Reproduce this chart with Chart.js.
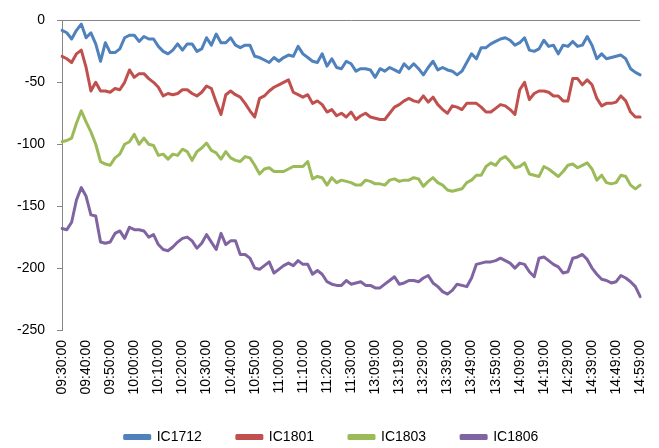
<!DOCTYPE html>
<html>
<head>
<meta charset="utf-8">
<script src="https://cdn.jsdelivr.net/npm/chart.js@4/dist/chart.umd.min.js"></script>
<style>
  html, body { margin: 0; padding: 0; background: #ffffff; }
  #c { display: block; }
</style>
</head>
<body>
<canvas id="c" width="659" height="448"></canvas>
<script>
// Spread between contract and index, sampled every two minutes of the trading day
const morningSession = ['09:30', '11:30'];
const afternoonSession = ['13:01', '14:59'];
const sampleStepMinutes = 2;

// Times shown on the horizontal axis
const tickLabels = [
  '09:30:00', '09:40:00', '09:50:00', '10:00:00', '10:10:00', '10:20:00',
  '10:30:00', '10:40:00', '10:50:00', '11:00:00', '11:10:00', '11:20:00',
  '11:30:00', '13:09:00', '13:19:00', '13:29:00', '13:39:00', '13:49:00',
  '13:59:00', '14:09:00', '14:19:00', '14:29:00', '14:39:00', '14:49:00',
  '14:59:00'
];

const seriesNames = ['IC1712', 'IC1801', 'IC1803', 'IC1806'];

const ic1712 = [
  -8, -10, -15, -8, -3, -14, -10, -19, -33, -18,
  -26, -26, -23, -14, -12, -12, -17, -13, -15, -15,
  -21, -25, -27, -24, -19, -24, -19, -19, -25, -23,
  -14, -20, -11, -18, -18, -14, -20, -22, -20, -20,
  -29, -30, -32, -34, -30, -33, -30, -28, -29, -21,
  -27, -30, -33, -34, -27, -37, -31, -38, -39, -33,
  -35, -41, -39, -39, -40, -46, -39, -41, -38, -40,
  -42, -35, -39, -35, -39, -44, -38, -33, -40, -38,
  -40, -41, -44, -41, -34, -27, -31, -22, -22, -19,
  -17, -15, -14, -16, -20, -18, -14, -24, -25, -23,
  -16, -21, -20, -27, -20, -21, -17, -21, -20, -13,
  -20, -31, -27, -31, -30, -29, -28, -31, -39, -42,
  -44
];

const ic1801 = [
  -29, -31, -34, -27, -24, -38, -57, -50, -57, -57,
  -58, -55, -56, -50, -40, -46, -43, -43, -47, -50,
  -54, -61, -59, -60, -59, -56, -56, -59, -61, -58,
  -53, -55, -66, -76, -60, -57, -60, -62, -67, -73,
  -78, -63, -61, -57, -54, -52, -50, -48, -58, -60,
  -62, -60, -67, -65, -68, -74, -72, -77, -75, -78,
  -74, -80, -77, -75, -78, -79, -80, -80, -75, -70,
  -68, -65, -63, -65, -66, -61, -66, -62, -68, -72,
  -75, -69, -70, -72, -67, -67, -67, -70, -74, -74,
  -71, -68, -69, -72, -76, -56, -50, -64, -59, -57,
  -57, -58, -61, -61, -65, -65, -47, -47, -52, -48,
  -52, -63, -69, -67, -67, -66, -61, -65, -74, -78,
  -78
];

const ic1803 = [
  -98, -97, -95, -83, -73, -82, -90, -100, -114, -116,
  -117, -111, -108, -100, -98, -92, -100, -95, -100, -101,
  -109, -108, -112, -108, -109, -104, -106, -113, -106, -103,
  -99, -105, -107, -112, -106, -111, -113, -114, -110, -111,
  -117, -124, -120, -119, -122, -122, -122, -120, -118, -118,
  -118, -114, -128, -126, -127, -133, -127, -131, -129, -130,
  -131, -133, -133, -129, -130, -132, -132, -133, -129, -128,
  -130, -129, -129, -127, -128, -134, -130, -127, -131, -133,
  -137, -138, -137, -136, -131, -129, -125, -125, -118, -115,
  -117, -112, -110, -114, -119, -118, -115, -124, -125, -126,
  -118, -120, -123, -126, -122, -117, -116, -119, -117, -115,
  -120, -129, -125, -131, -132, -131, -125, -126, -133, -136,
  -133
];

const ic1806 = [
  -168, -169, -163, -145, -135, -142, -157, -158, -179, -180,
  -179, -172, -170, -176, -167, -169, -169, -170, -175, -173,
  -181, -185, -186, -183, -179, -176, -175, -178, -184, -180,
  -173, -179, -185, -172, -181, -178, -178, -189, -189, -192,
  -200, -201, -198, -195, -204, -201, -198, -196, -198, -194,
  -197, -197, -205, -202, -205, -211, -213, -214, -214, -210,
  -213, -212, -211, -214, -214, -216, -216, -213, -210, -207,
  -213, -212, -210, -210, -211, -208, -206, -212, -215, -219,
  -221, -218, -213, -214, -215, -208, -197, -196, -195, -195,
  -194, -192, -194, -196, -200, -196, -197, -203, -207, -192,
  -191, -194, -197, -199, -204, -203, -192, -191, -189, -193,
  -200, -205, -209, -210, -212, -211, -206, -208, -211, -215,
  -223
];

const seriesColors = ['#4F81BD', '#C0504D', '#9BBB59', '#8064A2'];

// Build the sample times for both sessions
function sessionTimes(range, step) {
  const toMin = s => { const [h, m] = s.split(':').map(Number); return h * 60 + m; };
  const out = [];
  for (let t = toMin(range[0]); t <= toMin(range[1]); t += step) {
    const h = String(Math.floor(t / 60)).padStart(2, '0');
    const m = String(t % 60).padStart(2, '0');
    out.push(h + ':' + m + ':00');
  }
  return out;
}
const categories = sessionTimes(morningSession, sampleStepMinutes)
  .concat(sessionTimes(afternoonSession, sampleStepMinutes));

const seriesValues = [ic1712, ic1801, ic1803, ic1806];

const axisFont = { family: '"Liberation Sans", Arial, sans-serif', size: 14 };
const axisColor = '#868686';

// Moves the legend row a little to the right of its default slot
const legendOffset = { x: 11, y: 0 };
const legendNudge = {
  id: 'legendNudge',
  afterLayout(chart) {
    const lg = chart.legend;
    if (!lg) return;
    lg.left += legendOffset.x;
    lg.right += legendOffset.x;
    lg.top += legendOffset.y;
    lg.bottom += legendOffset.y;
  }
};

new Chart(document.getElementById('c'), {
  type: 'line',
  data: {
    labels: categories,
    datasets: seriesNames.map((name, i) => ({
      label: name,
      data: seriesValues[i],
      borderColor: seriesColors[i],
      backgroundColor: seriesColors[i],
      borderWidth: 3,
      pointRadius: 0,
      pointHoverRadius: 0,
      tension: 0,
      borderJoinStyle: 'round',
      borderCapStyle: 'round',
      fill: false
    }))
  },
  plugins: [legendNudge],
  options: {
    responsive: false,
    animation: false,
    events: [],
    layout: { padding: { left: 0, right: 18, top: 15, bottom: 0 } },
    plugins: {
      tooltip: { enabled: false },
      legend: {
        position: 'bottom',
        maxHeight: 53,
        labels: {
          boxWidth: 25,
          boxHeight: 3,
          padding: 35,
          color: '#000000',
          font: axisFont
        }
      }
    },
    scales: {
      x: {
        type: 'category',
        offset: false,
        grid: { display: false },
        border: { display: false },
        ticks: {
          autoSkip: false,
          minRotation: 90,
          maxRotation: 90,
          padding: 2,
          color: '#000000',
          font: axisFont
        },
        afterBuildTicks: scale => {
          scale.ticks = scale.ticks.filter(t => tickLabels.includes(categories[t.value]));
        },
        afterFit: scale => { scale.height = 65; }
      },
      y: {
        min: -250,
        max: 0,
        ticks: { stepSize: 50, padding: 12, color: '#000000', font: axisFont },
        grid: {
          drawOnChartArea: true,
          color: c => (c.tick && c.tick.value === 0 ? axisColor : 'rgba(0,0,0,0)'),
          tickColor: axisColor,
          tickLength: 5,
          lineWidth: 1
        },
        border: { display: true, color: axisColor, width: 1 },
        afterFit: scale => { scale.width = 62; }
      }
    }
  }
});
</script>
</body>
</html>
